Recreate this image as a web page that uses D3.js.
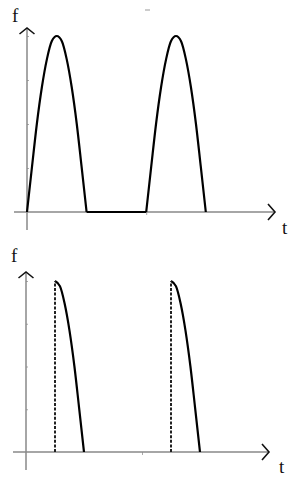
<!DOCTYPE html>
<html>
<head>
<meta charset="utf-8">
<script src="https://cdn.jsdelivr.net/npm/d3@7"></script>
<style>
  body { margin: 0; background: #fff; }
  svg { display: block; }
  .lbl { font-family: "Liberation Serif", "DejaVu Serif", serif; font-size: 19px; fill: #111; }
</style>
</head>
<body>
<svg id="chart" width="295" height="483"></svg>
<script>
// top panel: two half-sine humps with a flat gap between them
const hump1T = [0, 0.17, 0.33, 0.5, 0.67, 0.83, 1, 1.17, 1.33, 1.5, 1.67, 1.83, 2];
const hump1F = [0, 0.26, 0.5, 0.71, 0.87, 0.97, 1, 0.97, 0.87, 0.71, 0.5, 0.26, 0];
const gapT = [2, 4];
const gapF = [0, 0];
const hump2T = [4, 4.17, 4.33, 4.5, 4.67, 4.83, 5, 5.17, 5.33, 5.5, 5.67, 5.83, 6];
const hump2F = [0, 0.26, 0.5, 0.71, 0.87, 0.97, 1, 0.97, 0.87, 0.71, 0.5, 0.26, 0];

// bottom panel: falling quarter-waves starting at a jump
const fall1T = [1, 1.17, 1.33, 1.5, 1.67, 1.83, 2];
const fall2T = [5, 5.17, 5.33, 5.5, 5.67, 5.83, 6];
const fallF = [1, 0.97, 0.87, 0.71, 0.5, 0.26, 0];
const jumpT = [1, 5];

const fTicks = [0.25, 0.5, 0.75, 1];
const tTicks = [4];
const axisLabels = ['f', 't'];

const svg = d3.select('#chart');

function panel(cfg) {
  const x = d3.scaleLinear().domain([0, 8]).range([cfg.x0, cfg.x0 + 8 * cfg.unit]);
  const y = d3.scaleLinear().domain([0, 1]).range([cfg.y0, cfg.yTop]);
  const g = svg.append('g');

  // y ticks (small, grey, on the right of the axis)
  const ya = g.append('g')
    .attr('transform', `translate(${x(0)},0)`)
    .call(d3.axisRight(y).tickValues(fTicks).tickSize(2).tickFormat(''));
  ya.select('.domain').remove();
  ya.selectAll('line').attr('stroke', '#aaa');

  const xa = g.append('g')
    .attr('transform', `translate(0,${y(0)})`)
    .call(d3.axisBottom(x).tickValues(tTicks).tickSize(3).tickFormat(''));
  xa.select('.domain').remove();
  xa.selectAll('line').attr('stroke', '#aaa');

  // axis lines
  g.append('line')
    .attr('x1', x(0)).attr('x2', x(0))
    .attr('y1', cfg.y0 + 18).attr('y2', cfg.yArrow)
    .attr('stroke', '#888').attr('stroke-width', 1.5);
  g.append('line')
    .attr('x1', x(0) - 13).attr('x2', cfg.xArrow)
    .attr('y1', y(0)).attr('y2', y(0))
    .attr('stroke', '#888').attr('stroke-width', 1.5);

  // arrow heads
  g.append('path')
    .attr('d', `M${x(0) - 7.5},${cfg.yArrow + 6}L${x(0)},${cfg.yArrow}L${x(0) + 7.5},${cfg.yArrow + 6}`)
    .attr('fill', 'none').attr('stroke', '#111').attr('stroke-width', 1.6);
  g.append('path')
    .attr('d', `M${cfg.xArrow - 7},${y(0) - 8}L${cfg.xArrow},${y(0)}L${cfg.xArrow - 7},${y(0) + 8}`)
    .attr('fill', 'none').attr('stroke', '#111').attr('stroke-width', 1.6);

  g.append('text').attr('class', 'lbl')
    .attr('x', cfg.fLabel[0]).attr('y', cfg.fLabel[1]).text(axisLabels[0]);
  g.append('text').attr('class', 'lbl')
    .attr('x', cfg.tLabel[0]).attr('y', cfg.tLabel[1]).text(axisLabels[1]);

  const line = d3.line()
    .x(d => x(d[0]))
    .y(d => y(d[1]))
    .curve(d3.curveMonotoneX);

  cfg.segs.forEach(([ts, fs]) => {
    g.append('path')
      .datum(ts.map((t, i) => [t, fs[i]]))
      .attr('d', line)
      .attr('fill', 'none')
      .attr('stroke', '#000')
      .attr('stroke-width', 2.2)
      .attr('stroke-linejoin', 'round');
  });

  (cfg.dashes || []).forEach(t => {
    g.append('line')
      .attr('x1', x(t)).attr('x2', x(t))
      .attr('y1', y(0)).attr('y2', y(1))
      .attr('stroke', '#222').attr('stroke-width', 2)
      .attr('stroke-dasharray', '3,1.6');
  });
  return g;
}

panel({
  x0: 27, unit: 29.8, y0: 212, yTop: 36, yArrow: 28, xArrow: 275,
  fLabel: [12, 22], tLabel: [282, 234],
  segs: [[hump1T, hump1F], [gapT, gapF], [hump2T, hump2F]]
});

panel({
  x0: 26, unit: 29, y0: 452, yTop: 281, yArrow: 272, xArrow: 269,
  fLabel: [11, 262], tLabel: [279, 473],
  segs: [[fall1T, fallF], [fall2T, fallF]],
  dashes: jumpT
});

// small stray mark near the top edge
svg.append('line')
  .attr('x1', 145).attr('x2', 150).attr('y1', 10).attr('y2', 10)
  .attr('stroke', '#999').attr('stroke-width', 1);
</script>
</body>
</html>
